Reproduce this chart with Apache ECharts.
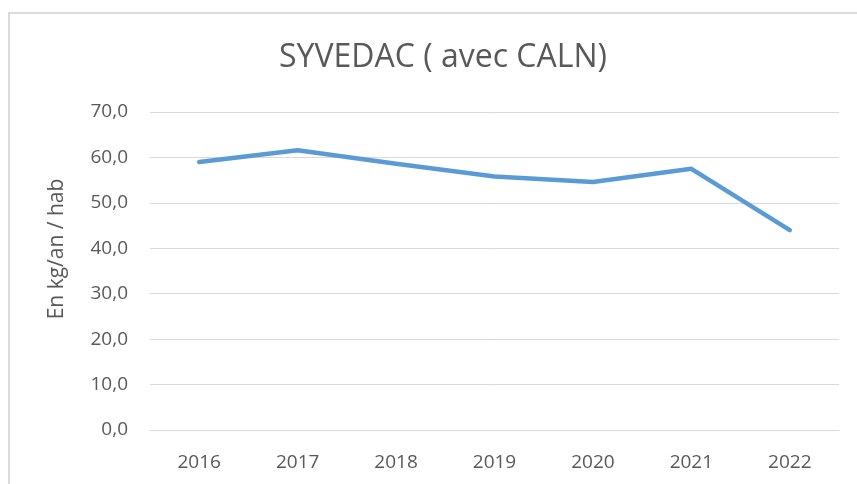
<!DOCTYPE html>
<html>
<head>
<meta charset="utf-8">
<script src="https://cdn.jsdelivr.net/npm/echarts@6/dist/echarts.min.js"></script>
<style>
html,body{margin:0;padding:0;background:#fff;}
#chart{width:857px;height:484px;}
</style>
</head>
<body>
<div id="chart"></div>
<script>
const categories = ['2016','2017','2018','2019','2020','2021','2022'];
const values = [59.0, 61.6, 58.6, 55.8, 54.6, 57.5, 44.0];
const yTicks = [0, 10, 20, 30, 40, 50, 60, 70];

const chart = echarts.init(document.getElementById('chart'), null, {renderer:'canvas'});
const font = '"Open Sans", sans-serif';
chart.setOption({
  animation: false,
  backgroundColor: '#fff',
  title: {
    text: 'SYVEDAC ( avec CALN)',
    left: 438, top: 37, textAlign: 'center',
    textStyle: {fontFamily: font, fontSize: 32, fontWeight: 'normal', color: '#595959'}
  },
  graphic: [
    {type:'rect', shape:{x:9, y:13, width:900, height:500}, style:{fill:'none', stroke:'#d0d0d0', lineWidth:1.5}, z:-1},
    {type:'text', x:57, y:249, rotation: Math.PI/2,
     style:{text:'En kg/an / hab', fontFamily: font, fontSize: 21, fill:'#595959', textAlign:'center', textVerticalAlign:'middle'}}
  ],
  grid: {left:150, right:18, top:112, bottom:54},
  xAxis: {
    type:'category', data: categories, boundaryGap: true,
    axisLine:{lineStyle:{color:'#d9d9d9', width:1}},
    axisTick:{show:false},
    axisLabel:{fontFamily: font, fontSize: 19, color:'#595959', margin: 23}
  },
  yAxis: {
    type:'value', min: yTicks[0], max: yTicks[yTicks.length-1], interval: 10,
    axisLine:{show:false}, axisTick:{show:false},
    splitLine:{lineStyle:{color:'#d9d9d9', width:1}},
    axisLabel:{fontFamily: font, fontSize: 19, color:'#595959', margin: 22,
      formatter: v => v.toFixed(1).replace('.', ',')}
  },
  series: [{
    type:'line', data: values, showSymbol:false, symbol:'none',
    lineStyle:{color:'#5B9BD5', width:4.5, cap:'round', join:'round'},
    itemStyle:{color:'#5B9BD5'}
  }]
});
</script>
</body>
</html>
